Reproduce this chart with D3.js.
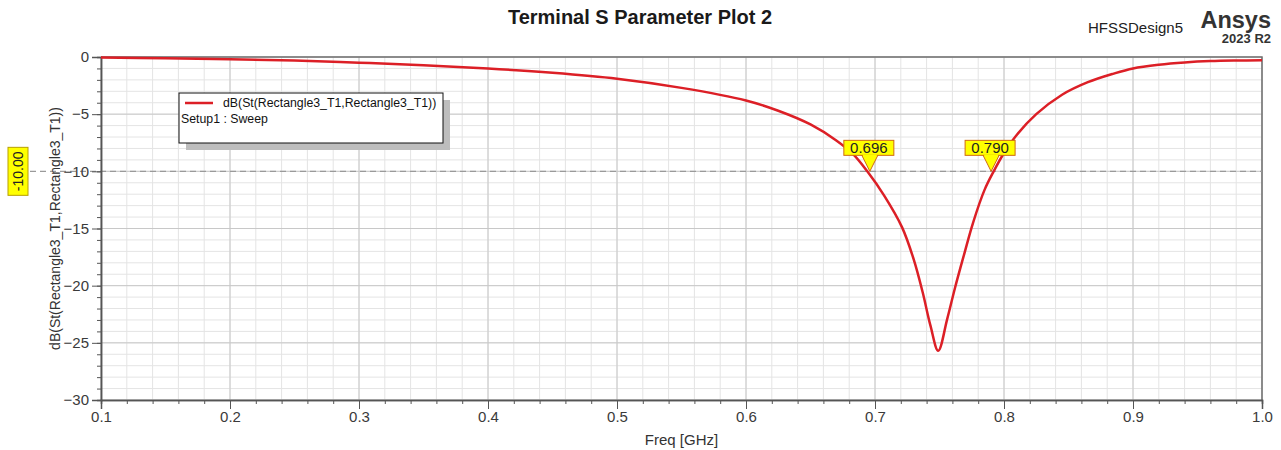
<!DOCTYPE html>
<html>
<head>
<meta charset="utf-8">
<script src="https://cdn.jsdelivr.net/npm/d3@7"></script>
<style>
  body { margin: 0; background: #fff; }
  svg { font-family: Arial, "Liberation Sans", sans-serif; }
</style>
</head>
<body>
<div id="chart"></div>
<script>
// Data
const freq = [0.1, 0.15, 0.2, 0.25, 0.3, 0.35, 0.4, 0.45, 0.5, 0.55, 0.6, 0.625, 0.65, 0.67, 0.683, 0.694,
  0.707, 0.721, 0.73, 0.737, 0.743, 0.749, 0.756, 0.762, 0.769, 0.776, 0.785, 0.792,
  0.8, 0.81, 0.825, 0.845, 0.865, 0.885, 0.9, 0.92, 0.94, 0.96, 0.98, 1.0];
const s11 = [-0.05, -0.12, -0.2, -0.3, -0.5, -0.72, -1.0, -1.38, -1.9, -2.7, -3.8, -4.7, -5.9, -7.3, -8.5, -10,
  -12.1, -14.9, -17.7, -20.6, -23.5, -25.7, -22.9, -20.2, -17.3, -14.5, -11.6, -10,
  -8.4, -6.8, -5.0, -3.3, -2.2, -1.45, -1.0, -0.68, -0.48, -0.36, -0.31, -0.29];
const markerFreqs = [0.696, 0.790];
const markerLabels = ["0.696", "0.790"];
const refLevel = -10;
const xTicks = [0.1, 0.2, 0.3, 0.4, 0.5, 0.6, 0.7, 0.8, 0.9, 1.0];
const yTicks = [0, -5, -10, -15, -20, -25, -30];

const data = freq.map((f, i) => ({f: f, v: s11[i]}));

let width = 1281;
let height = 450;
let margin = {top: 57, right: 19, bottom: 50, left: 101};

let svg = d3.select('#chart')
            .append('svg')
            .attr('width', width)
            .attr('height', height)

let xScale = d3.scaleLinear()
               .domain([0.1, 1.0])
               .range([margin.left, width - margin.right])
let yScale = d3.scaleLinear()
               .domain([-30, 0])
               .range([height - margin.bottom, margin.top])

const xMinor = d3.range(0, 46).map(i => 0.1 + i * 0.02);
const yMinor = d3.range(0, 31).map(i => -i);

// grid: minor lines every 0.02 GHz / 1 dB, majors a bit darker
svg.append('g')
   .selectAll('line')
   .data(xMinor)
   .join('line')
   .attr('x1', d => xScale(d)).attr('x2', d => xScale(d))
   .attr('y1', yScale(0)).attr('y2', yScale(-30))
   .attr('stroke', '#e4e4e4')
svg.append('g')
   .selectAll('line')
   .data(yMinor)
   .join('line')
   .attr('x1', xScale(0.1)).attr('x2', xScale(1.0))
   .attr('y1', d => yScale(d)).attr('y2', d => yScale(d))
   .attr('stroke', '#e4e4e4')
svg.append('g')
   .selectAll('line')
   .data(xTicks)
   .join('line')
   .attr('x1', d => xScale(d)).attr('x2', d => xScale(d))
   .attr('y1', yScale(0)).attr('y2', yScale(-30))
   .attr('stroke', '#c8c8c8')
svg.append('g')
   .selectAll('line')
   .data(yTicks)
   .join('line')
   .attr('x1', xScale(0.1)).attr('x2', xScale(1.0))
   .attr('y1', d => yScale(d)).attr('y2', d => yScale(d))
   .attr('stroke', '#c8c8c8')

// frame top and right
svg.append('path')
   .attr('d', `M${xScale(0.1)},${yScale(0)}H${xScale(1.0)}V${yScale(-30)}`)
   .attr('fill', 'none')
   .attr('stroke', '#707070')
   .attr('stroke-width', 1.5)

// reference line at -10 dB
svg.append('line')
   .attr('x1', 30).attr('x2', xScale(1.0))
   .attr('y1', yScale(refLevel)).attr('y2', yScale(refLevel))
   .attr('stroke', '#9a9a9a')
   .attr('stroke-width', 1.3)
   .attr('stroke-dasharray', '6,4')

// axes
let xAxis = svg.append('g')
   .attr('transform', `translate(0, ${yScale(-30)})`)
   .call(d3.axisBottom(xScale).tickValues(xTicks).tickFormat(d3.format('.1f')).tickSize(9).tickPadding(2))
svg.append('g')
   .attr('transform', `translate(0, ${yScale(-30)})`)
   .call(d3.axisBottom(xScale).tickValues(xMinor).tickFormat('').tickSize(4))
let yAxis = svg.append('g')
   .attr('transform', `translate(${xScale(0.1)}, 0)`)
   .call(d3.axisLeft(yScale).tickValues(yTicks).tickFormat(d3.format('d')).tickSize(9).tickPadding(3))
svg.append('g')
   .attr('transform', `translate(${xScale(0.1)}, 0)`)
   .call(d3.axisLeft(yScale).tickValues(yMinor).tickFormat('').tickSize(4))

svg.selectAll('.domain').attr('stroke', '#555').attr('stroke-width', 1.5)
svg.selectAll('.tick line').attr('stroke', '#555')
svg.selectAll('.tick text').attr('fill', '#3a3a3a').style('font-size', '15px')
   .style('font-family', 'Arial, "Liberation Sans", sans-serif')

// axis titles
svg.append('text')
   .attr('x', (xScale(0.1) + xScale(1.0)) / 2)
   .attr('y', 445)
   .attr('text-anchor', 'middle')
   .attr('fill', '#333')
   .style('font-size', '15px')
   .text('Freq [GHz]')
svg.append('text')
   .attr('transform', `translate(60, ${yScale(-15)}) rotate(-90)`)
   .attr('text-anchor', 'middle')
   .attr('fill', '#333')
   .style('font-size', '14px')
   .text('dB(St(Rectangle3_T1,Rectangle3_T1))')

// -10.00 label on the left
let refTag = svg.append('g')
   .attr('transform', `translate(18, ${yScale(refLevel)}) rotate(-90)`)
refTag.append('rect')
   .attr('x', -24).attr('y', -10)
   .attr('width', 48).attr('height', 20)
   .attr('fill', '#ffff00').attr('stroke', '#b8a000')
refTag.append('text')
   .attr('x', 0).attr('y', 5)
   .attr('text-anchor', 'middle')
   .style('font-size', '14px')
   .attr('fill', '#222')
   .text(refLevel.toFixed(2))

// the curve
let line = d3.line()
   .x(d => xScale(d.f))
   .y(d => yScale(d.v))
   .curve(d3.curveCatmullRom.alpha(0.5));

svg.append('path')
   .datum(data)
   .attr('fill', 'none')
   .attr('stroke', '#dc1f26')
   .attr('stroke-width', 2.5)
   .attr('d', line);

// markers
markerFreqs.forEach((f, i) => {
  const mx = xScale(f);
  const my = yScale(refLevel);
  const g = svg.append('g');
  g.append('path')
   .attr('d', `M${mx - 8},${my - 16}L${mx + 8},${my - 16}L${mx},${my}Z`)
   .attr('fill', '#ffff00').attr('stroke', '#d06a10').attr('stroke-width', 1)
  g.append('rect')
   .attr('x', mx - 26).attr('y', my - 31)
   .attr('width', 50).attr('height', 15)
   .attr('fill', '#ffff00').attr('stroke', '#d06a10').attr('stroke-width', 1)
  // hide the triangle's top edge under the box
  g.append('rect')
   .attr('x', mx - 7).attr('y', my - 16.5)
   .attr('width', 14).attr('height', 1.5)
   .attr('fill', '#ffff00')
  g.append('text')
   .attr('x', mx - 1).attr('y', my - 18.5)
   .attr('text-anchor', 'middle')
   .style('font-size', '15px')
   .attr('fill', '#222')
   .text(markerLabels[i])
});

// legend box with shadow
const legend = svg.append('g').attr('transform', 'translate(179, 93)');
legend.append('rect')
   .attr('x', 7).attr('y', 7).attr('width', 264).attr('height', 50)
   .attr('fill', '#bdbdbd')
legend.append('rect')
   .attr('x', 0).attr('y', 0).attr('width', 264).attr('height', 50)
   .attr('fill', '#fff').attr('stroke', '#111')
legend.append('line')
   .attr('x1', 6).attr('x2', 34).attr('y1', 10).attr('y2', 10)
   .attr('stroke', '#dc1f26').attr('stroke-width', 2.5)
legend.append('text')
   .attr('x', 44).attr('y', 14)
   .style('font-size', '12.3px').attr('fill', '#111')
   .text('dB(St(Rectangle3_T1,Rectangle3_T1))')
legend.append('text')
   .attr('x', 2).attr('y', 30)
   .style('font-size', '12.3px').attr('fill', '#111')
   .text('Setup1 : Sweep')

// title and logo texts
svg.append('text')
   .attr('x', 640).attr('y', 24)
   .attr('text-anchor', 'middle')
   .style('font-size', '20px').style('font-weight', 'bold')
   .attr('fill', '#1a1a1a')
   .text('Terminal S Parameter Plot 2')
svg.append('text')
   .attr('x', 1183).attr('y', 33)
   .attr('text-anchor', 'end')
   .style('font-size', '15px')
   .attr('fill', '#222')
   .text('HFSSDesign5')
svg.append('text')
   .attr('x', 1271).attr('y', 28)
   .attr('text-anchor', 'end')
   .style('font-size', '23.5px').style('font-weight', 'bold')
   .attr('fill', '#333')
   .text('Ansys')
svg.append('text')
   .attr('x', 1271).attr('y', 43)
   .attr('text-anchor', 'end')
   .style('font-size', '13px').style('font-weight', 'bold')
   .attr('fill', '#333')
   .text('2023 R2')
</script>
</body>
</html>
